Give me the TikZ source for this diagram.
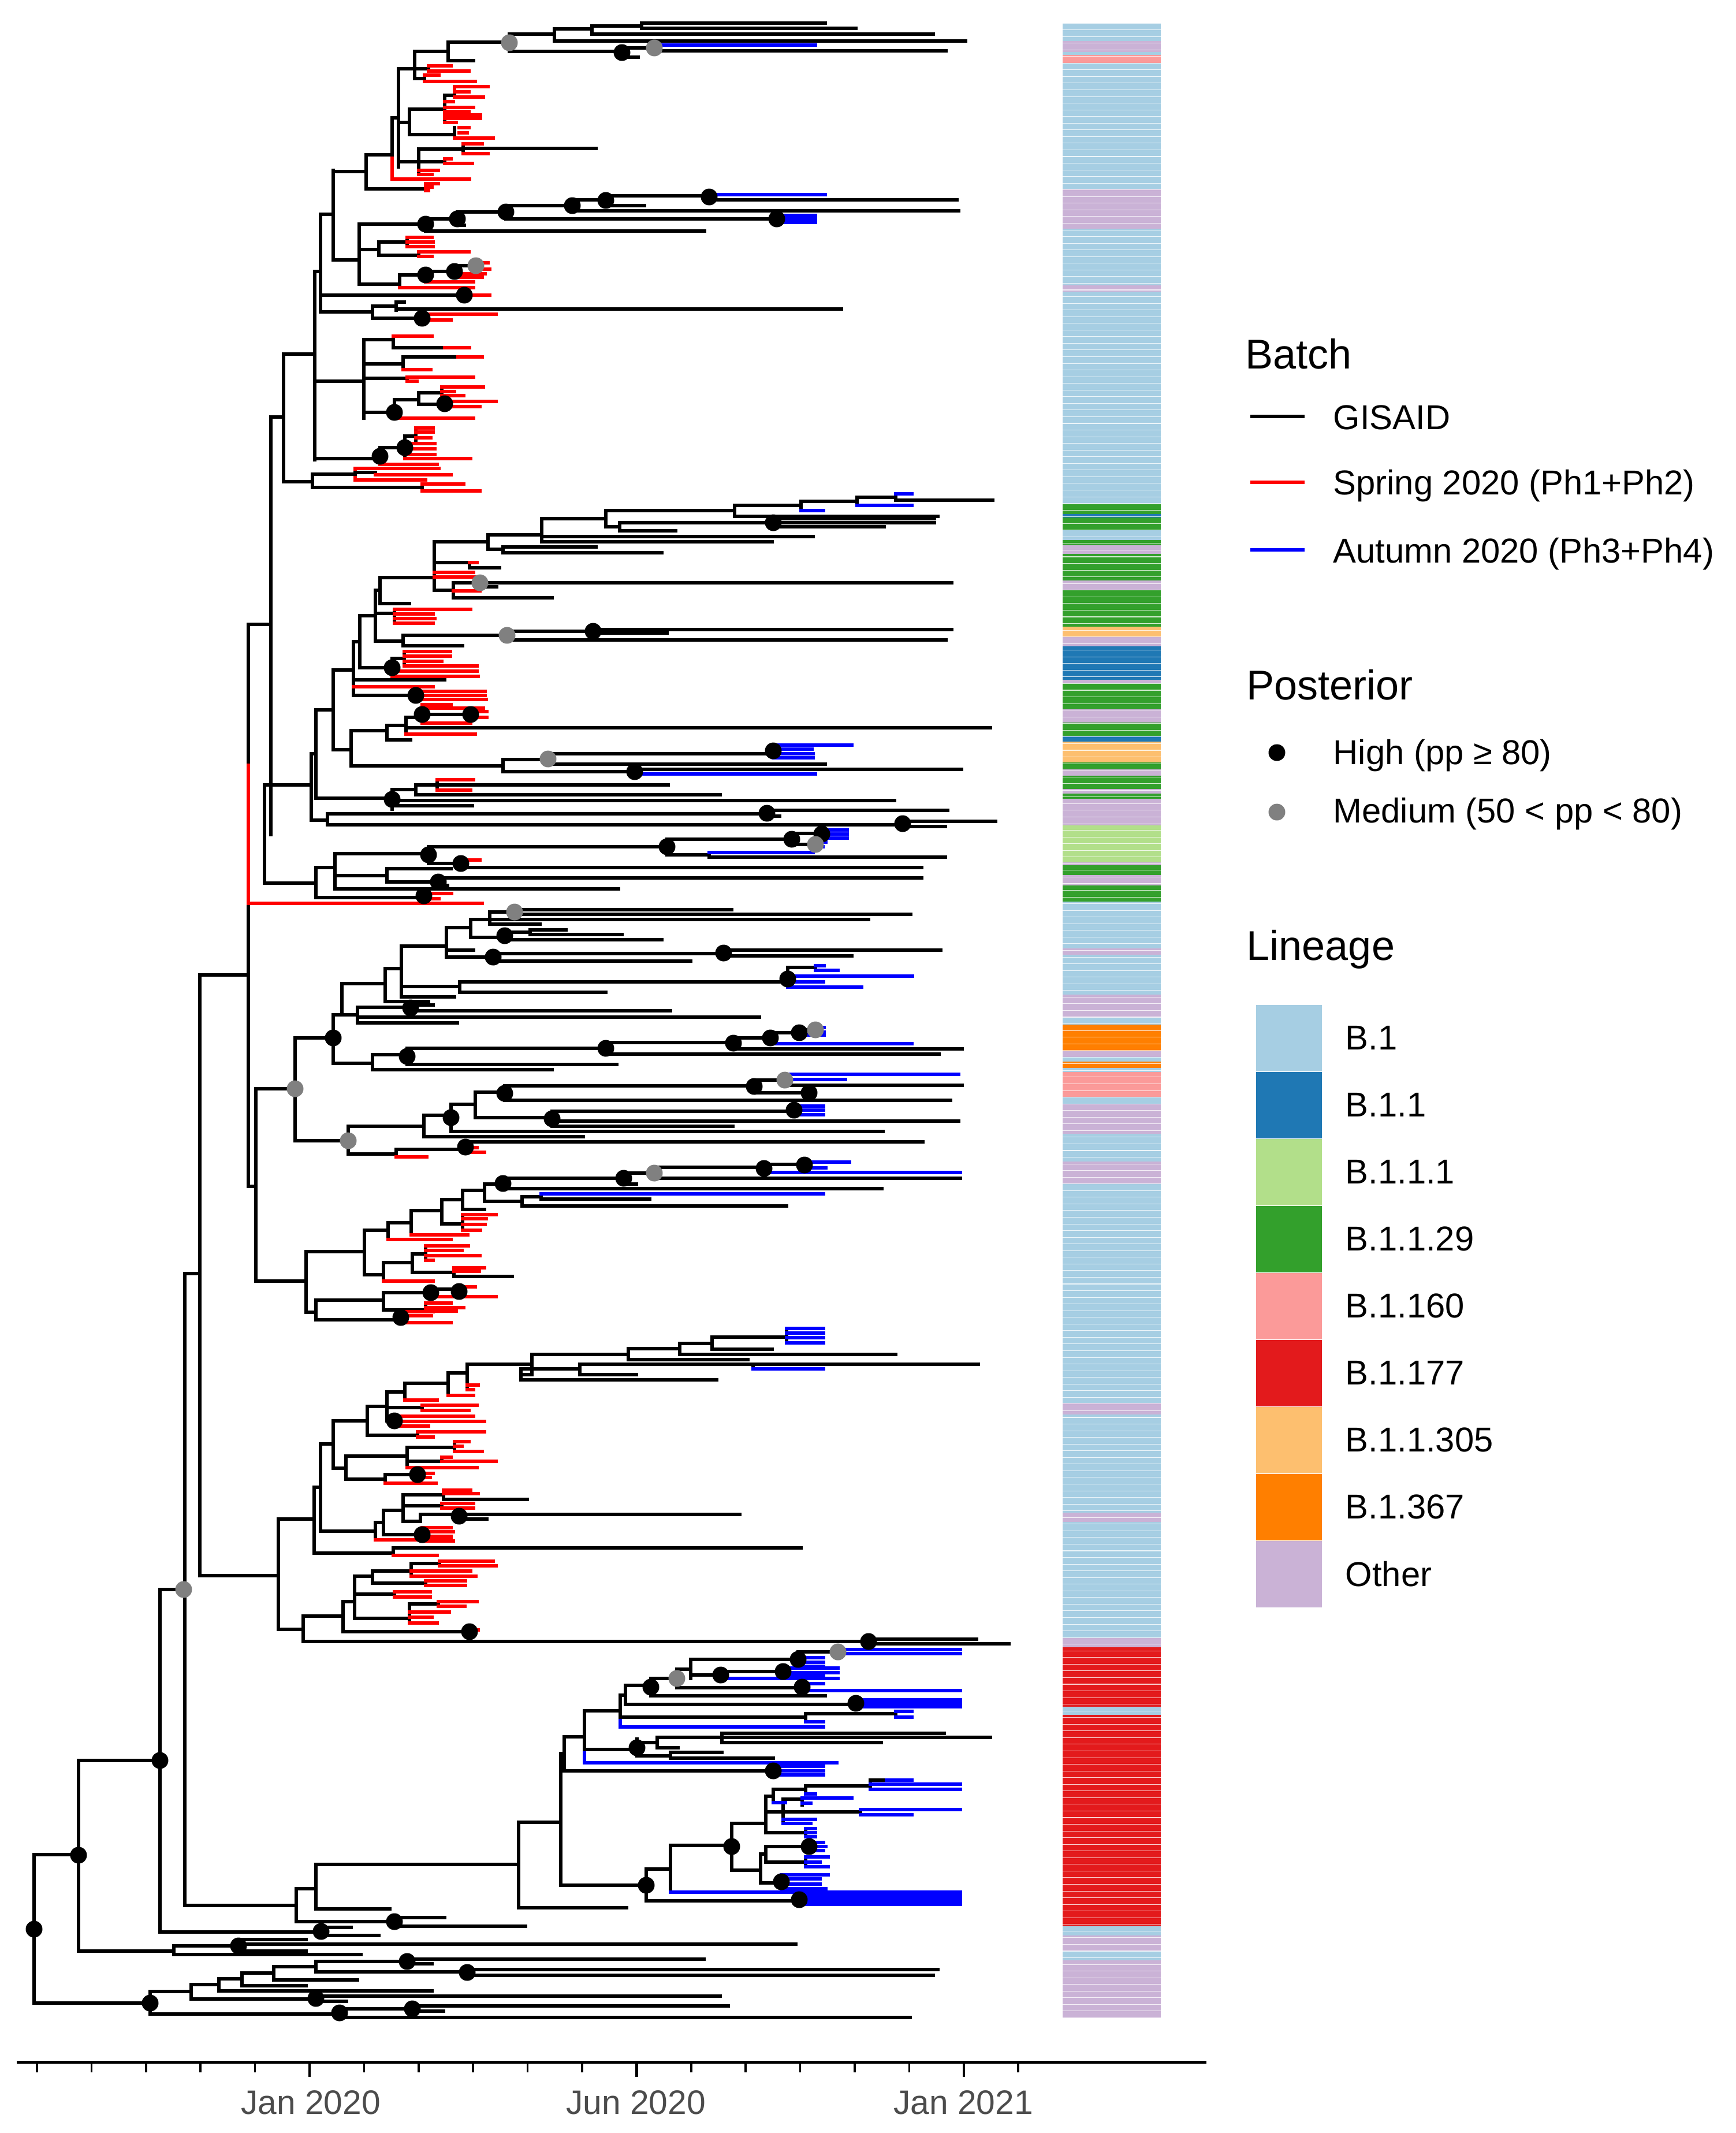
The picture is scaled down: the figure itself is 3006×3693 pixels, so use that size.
\documentclass[tikz,border=0pt]{standalone}
\usepackage{fontspec}
\setmainfont{Liberation Sans}
\usetikzlibrary{positioning}
\definecolor{lnBone}{HTML}{A6CEE3}
\definecolor{lnBoneone}{HTML}{1F78B4}
\definecolor{lnBoneoneone}{HTML}{B2DF8A}
\definecolor{lnBtwentynine}{HTML}{33A02C}
\definecolor{lnBonesixty}{HTML}{FB9A99}
\definecolor{lnBseventyseven}{HTML}{E31A1C}
\definecolor{lnBthreeofive}{HTML}{FDBF6F}
\definecolor{lnBthreesixseven}{HTML}{FF7F00}
\definecolor{lnOther}{HTML}{CAB2D6}
\definecolor{axgray}{gray}{0.3}
\definecolor{medgray}{gray}{0.5}

\begin{document}
\begin{tikzpicture}[x=0.1mm, y=-0.1mm]

\tikzstyle{br} = [line width=1.5pt, line cap=rect];
\tikzstyle{high} = [circle, fill=black, inner sep=0pt, minimum size=2.9mm];
\tikzstyle{medium} = [circle, fill=medgray, inner sep=0pt, minimum size=2.9mm];
\tikzstyle{ttl} = [font=\fontsize{20.5}{24}\selectfont, inner sep=0pt, anchor=base west];
\tikzstyle{leg} = [font=\fontsize{17}{20}\selectfont, inner sep=0pt];
\tikzstyle{swatch} = [rectangle, inner sep=0pt, minimum width=11.5mm, minimum height=11.6mm, draw=white, line width=0.3pt];
\tikzstyle{axlab} = [font=\fontsize{16.7}{20}\selectfont, text=axgray, inner sep=0pt, anchor=base];

\useasboundingbox (0,0) rectangle (3006,3693);

% lineage strip
\foreach \ya/\yb/\c in {40/71/lnBone, 71/90/lnOther, 90/95/lnBone, 95/109/lnBonesixty,
  109/327/lnBone, 327/396/lnOther, 396/494/lnBone, 494/505/lnOther, 505/873/lnBone,
  873/918/lnBtwentynine, 890/896/lnBoneone, 918/935/lnBone, 935/944/lnBtwentynine,
  944/959/lnOther, 959/1005/lnBtwentynine, 1005/1022/lnOther, 1022/1085/lnBtwentynine,
  1085/1102/lnBthreeofive, 1102/1119/lnOther, 1119/1177/lnBoneone, 1177/1183/lnOther,
  1183/1228/lnBtwentynine, 1228/1251/lnOther, 1251/1274/lnBtwentynine, 1274/1284/lnBoneone,
  1284/1320/lnBthreeofive, 1320/1332/lnBtwentynine, 1332/1343/lnOther, 1343/1366/lnBtwentynine,
  1366/1374/lnOther, 1374/1383/lnBtwentynine, 1383/1429/lnOther, 1429/1493/lnBoneoneone,
  1493/1498/lnOther, 1498/1515/lnBtwentynine, 1515/1533/lnOther, 1533/1561/lnBtwentynine,
  1561/1642/lnBone, 1642/1653/lnOther, 1653/1722/lnBone, 1722/1762/lnOther, 1762/1774/lnBone,
  1774/1820/lnBthreesixseven, 1820/1830/lnOther, 1830/1838/lnBone, 1838/1849/lnBthreesixseven,
  1849/1856/lnBone, 1856/1900/lnBonesixty, 1900/1912/lnBone, 1912/1963/lnOther,
  1963/2011/lnBone, 2011/2049/lnOther, 2049/2429/lnBone, 2429/2449/lnOther, 2449/2619/lnBone,
  2619/2635/lnOther, 2635/2836/lnBone, 2836/2852/lnOther, 2852/2955/lnBseventyseven,
  2955/2969/lnBone, 2969/3335/lnBseventyseven, 3335/3351/lnBone, 3351/3378/lnOther,
  3378/3394/lnBone, 3394/3494/lnOther}
  \fill[\c] (1840,\ya) rectangle (2010,\yb);
\foreach \i in {0,...,299}
  \draw[white, line width=0.3pt, opacity=0.8] (1840,{40+11.55*\i}) -- (2010,{40+11.55*\i});

% tree: vertical connectors
\foreach \x/\ya/\yb in {776/73/105, 718/89/136, 882/59/89, 960/50/71, 1025/45/59, 1111/40/49,
  1077/83/99, 1133/78/88, 690/119/289, 709/189/233, 770/165/212, 787/221/239, 802/249/266,
  725/258/302, 770/275/283, 679/204/268, 634/268/327, 577/295/450, 622/388/492, 737/379/400,
  792/367/390, 876/356/379, 991/346/365, 1049/339/356, 1228/337/346, 1345/373/385,
  656/419/442, 705/411/427, 725/436/444, 692/476/498, 737/466/488, 787/460/480, 824/455/466,
  555/371/540, 645/530/551, 686/523/537, 731/544/554, 545/470/796, 491/613/834, 469/722/1445,
  630/588/724, 681/582/602, 698/618/640, 683/692/724, 725/680/700, 765/670/685, 770/695/704,
  658/775/804, 701/755/794, 720/741/768, 541/821/844, 430/1081/1325, 430/1564/2054,
  1484/861/875, 1551/855/866, 1387/868/884, 1272/875/894, 1049/884/912, 1073/905/919,
  1339/898/912, 938/898/938, 845/926/951, 871/947/957, 752/938/1022, 813/974/983,
  785/1009/1035, 658/1000/1045, 650/1022/1110, 683/1055/1079, 698/1100/1118, 878/1093/1108,
  1027/1090/1096, 612/1111/1204, 623/1066/1156, 679/1140/1172, 700/1128/1153, 720/1197/1211,
  577/1160/1298, 608/1265/1326, 670/1256/1281, 703/1242/1271, 731/1220/1252, 815/1232/1242,
  871/1315/1336, 949/1305/1323, 1339/1290/1312, 1099/1332/1340, 547/1229/1382, 679/1367/1401,
  720/1359/1376, 757/1350/1368, 539/1305/1420, 567/1409/1428, 1328/1403/1413, 1563/1422/1431,
  458/1359/1529, 547/1502/1554, 580/1478/1539, 742/1466/1495, 1155/1453/1480, 1371/1443/1462,
  1228/1476/1484, 798/1489/1502, 670/1504/1527, 759/1520/1533, 734/1547/1556, 346/1688/2728,
  443/1885/2218, 511/1797/1975, 577/1757/1841, 619/1744/1771, 711/1740/1750, 592/1703/1757,
  667/1677/1734, 695/1638/1726, 773/1606/1657, 815/1592/1623, 848/1579/1600, 891/1575/1583,
  874/1610/1627, 918/1610/1618, 854/1651/1664, 1253/1645/1655, 796/1700/1718, 1364/1675/1709,
  1412/1672/1680, 645/1826/1852, 705/1815/1843, 1049/1805/1826, 1270/1797/1816, 1334/1788/1807,
  1384/1783/1792, 603/1950/1998, 734/1931/1968, 781/1912/1959, 823/1891/1935, 874/1880/1905,
  1306/1870/1892, 1359/1860/1879, 956/1924/1950, 1375/1915/1930, 686/1990/2003, 806/1977/1996,
  530/2167/2272, 631/2130/2207, 672/2117/2146, 712/2096/2138, 765/2077/2119, 801/2061/2094,
  839/2050/2080, 871/2040/2058, 1080/2031/2050, 1133/2021/2040, 1323/2016/2030, 1393/2012/2022,
  904/2072/2088, 937/2067/2076, 801/2103/2130, 664/2186/2218, 714/2171/2203, 737/2157/2182,
  786/2195/2210, 547/2251/2285, 664/2238/2268, 746/2232/2245, 795/2226/2245, 737/2256/2270,
  694/2271/2292, 1362/2300/2325, 1233/2315/2336, 1177/2326/2345, 1088/2335/2354, 921/2345/2380,
  902/2370/2389, 1004/2362/2380, 1304/2362/2370, 809/2362/2406, 776/2377/2416, 701/2395/2424,
  670/2410/2460, 731/2433/2442, 683/2452/2469, 636/2435/2485, 723/2479/2488, 577/2460/2542,
  599/2521/2561, 705/2506/2541, 787/2496/2513, 765/2523/2530, 667/2553/2568, 723/2551/2558,
  555/2500/2651, 544/2575/2689, 482/2630/2821, 650/2636/2666, 664/2615/2657, 698/2588/2634,
  768/2580/2596, 765/2603/2611, 728/2622/2634, 795/2620/2630, 731/2645/2668, 681/2680/2693,
  525/2798/2842, 594/2773/2825, 614/2729/2802, 645/2720/2741, 712/2707/2729, 761/2703/2711,
  737/2737/2745, 683/2756/2765, 709/2777/2810, 759/2773/2781, 1504/2838/2846, 320/2205/3299,
  277/2752/3345, 136/3048/3378, 59/3211/3468, 1172/2890/2922, 1196/2873/2906, 1382/2860/2885,
  1451/2856/2863, 1248/2894/2906, 1356/2888/2900, 1389/2915/2927, 1127/2906/2936,
  1083/2918/2951, 1482/2943/2955, 1074/2935/2973, 1395/2967/2981, 1551/2963/2973,
  1012/2962/3029, 977/3007/3066, 1339/3058/3073, 1103/3011/3040, 1138/3008/3026,
  1250/3001/3017, 1161/3034/3044, 971/3036/3264, 898/3155/3303, 547/3228/3305, 513/3270/3327,
  683/3320/3335, 1119/3236/3291, 1161/3195/3276, 1267/3157/3238, 1326/3110/3173,
  1339/3098/3121, 1395/3092/3106, 1507/3082/3098, 1356/3115/3157, 1389/3113/3125,
  1490/3133/3142, 1395/3166/3180, 1317/3210/3260, 1326/3197/3224, 1401/3190/3204,
  1395/3215/3232, 1353/3246/3270, 1384/3280/3297, 556/3337/3351, 301/3369/3384,
  413/3358/3378, 260/3448/3487, 331/3436/3461, 379/3426/3447, 419/3416/3438, 474/3405/3428,
  547/3396/3414, 705/3392/3400, 809/3410/3420, 547/3456/3465, 588/3478/3493, 714/3473/3482}
  \draw[br] (\x,\ya) -- (\x,\yb);
\foreach \x/\ya/\yb in {430/1325/1564, 679/268/310, 742/114/123, 735/130/141, 787/150/168,
  615/811/831, 731/838/850}
  \draw[br, red] (\x,\ya) -- (\x,\yb);
\foreach \x/\ya/\yb in {1012/3029/3052, 1074/2973/2990}
  \draw[br, blue] (\x,\ya) -- (\x,\yb);

% tree: GISAID branches
\foreach \xa/\xb/\y in {776/882/73, 776/820/105, 718/776/89, 882/960/59, 882/1077/89,
  960/1025/50, 960/1672/71, 1025/1111/45, 1025/1616/59, 1111/1429/40, 1111/1482/49,
  1077/1133/83, 1133/1638/88, 1077/1105/99, 690/718/119, 718/742/119, 718/735/136,
  690/709/212, 709/770/189, 770/787/165, 709/787/233, 725/802/258, 802/1032/257, 725/770/280,
  690/725/280, 679/690/204, 634/679/268, 634/737/327, 577/634/297, 577/622/450, 622/737/388,
  737/792/379, 737/1220/400, 792/876/367, 792/804/390, 876/991/356, 876/1345/379,
  991/1049/346, 991/1660/365, 1049/1228/339, 1049/1116/356, 1228/1657/346, 622/656/432,
  656/705/419, 656/725/442, 622/692/492, 692/737/476, 737/787/470, 787/824/460, 555/577/371,
  555/804/511, 555/645/540, 645/686/530, 686/1457/535, 686/700/523, 645/731/551, 545/555/470,
  491/545/613, 469/491/722, 545/630/660, 630/681/588, 681/770/602, 630/698/630, 698/793/618,
  630/705/655, 630/683/714, 683/725/692, 725/765/680, 725/770/700, 545/658/794, 658/701/775,
  701/720/755, 491/541/834, 615/650/818, 541/615/821, 541/731/844, 430/469/1081,
  1484/1551/861, 1551/1719/866, 1387/1484/868, 1272/1387/875, 1272/1624/894, 1049/1272/884,
  1049/1073/912, 1073/1339/905, 1073/1170/919, 1339/1618/898, 1339/1618/905, 1339/1531/912,
  938/1049/898, 938/1408/929, 938/1337/938, 845/938/926, 845/871/951, 871/1032/947,
  871/1146/957, 752/845/938, 752/813/974, 813/865/983, 785/831/1009, 831/1648/1009,
  831/860/1016, 785/956/1035, 752/785/1022, 658/752/1000, 658/709/1045, 650/658/1022,
  650/683/1062, 650/698/1110, 698/878/1100, 878/1027/1093, 1027/1648/1090, 1027/1155/1096,
  878/1638/1108, 698/801/1118, 623/650/1066, 623/679/1156, 679/700/1140, 612/623/1111,
  612/770/1177, 612/720/1204, 577/612/1160, 608/670/1265, 670/703/1256, 703/731/1242,
  731/815/1237, 703/1715/1260, 670/711/1281, 577/608/1298, 608/871/1326, 871/949/1315,
  949/1339/1305, 949/1429/1323, 871/1099/1336, 1099/1665/1332, 547/577/1229, 547/679/1382,
  679/720/1367, 720/757/1359, 757/1157/1359, 720/1247/1376, 679/1549/1386, 679/818/1395,
  539/547/1305, 539/567/1420, 567/1328/1409, 1328/1641/1403, 1328/1350/1413, 567/1563/1428,
  1563/1724/1422, 1563/1637/1431, 458/539/1359, 458/547/1529, 547/580/1502, 580/742/1478,
  742/1155/1466, 1155/1371/1453, 1371/1423/1443, 1371/1412/1462, 1155/1228/1480,
  1228/1637/1484, 742/798/1495, 798/1596/1502, 580/670/1516, 670/781/1504, 670/759/1527,
  759/1596/1520, 759/775/1533, 580/1071/1539, 547/734/1554, 430/443/2054, 346/430/1688,
  443/511/1885, 511/577/1797, 577/619/1757, 619/711/1744, 711/750/1740, 711/1161/1750,
  619/1315/1761, 619/792/1771, 592/667/1703, 667/695/1677, 667/742/1734, 695/773/1638,
  773/815/1606, 815/848/1592, 848/891/1579, 891/1267/1575, 891/1577/1583, 848/1504/1592,
  848/935/1600, 815/874/1623, 874/918/1614, 918/980/1610, 918/1077/1618, 874/1146/1627,
  773/820/1645, 773/854/1657, 854/1253/1651, 1253/1629/1645, 1253/1475/1655, 854/1196/1664,
  695/796/1708, 796/1364/1700, 1364/1412/1675, 796/1049/1718, 695/787/1726, 577/645/1841,
  645/705/1826, 705/1049/1815, 1049/1270/1805, 1270/1334/1797, 1334/1384/1788,
  1384/1412/1783, 1270/1666/1816, 1049/1626/1825, 705/1068/1843, 645/956/1852, 511/603/1975,
  603/734/1950, 734/781/1931, 781/823/1912, 823/874/1891, 874/1306/1880, 1306/1359/1870,
  1359/1666/1879, 1306/1401/1892, 874/1646/1905, 823/956/1935, 956/1375/1924, 956/1660/1941,
  956/1269/1950, 781/1529/1959, 734/1010/1968, 603/686/1998, 686/806/1990, 806/1598/1977,
  443/530/2218, 530/631/2167, 631/672/2130, 672/712/2117, 712/765/2096, 765/801/2077,
  801/839/2061, 839/871/2050, 871/1080/2040, 1080/1133/2031, 1133/1323/2021, 1323/1393/2016,
  1133/1663/2040, 1080/1102/2050, 871/1527/2058, 839/904/2080, 904/937/2072, 937/1125/2076,
  904/1362/2088, 801/839/2094, 765/801/2119, 631/664/2207, 664/714/2186, 714/737/2171,
  714/786/2203, 786/887/2210, 530/547/2272, 547/664/2251, 664/746/2238, 746/795/2232,
  664/737/2268, 547/694/2285, 1233/1362/2315, 1233/1337/2336, 1177/1233/2326, 1177/1551/2345,
  1088/1177/2335, 1088/1295/2354, 921/1088/2345, 902/921/2380, 902/1004/2370, 1004/1304/2362,
  1304/1694/2362, 1004/1102/2380, 902/1241/2389, 809/921/2362, 776/809/2377, 701/776/2395,
  670/701/2410, 670/731/2437, 670/683/2460, 636/670/2435, 636/723/2485, 577/636/2460,
  555/577/2500, 599/705/2521, 705/787/2506, 705/765/2530, 599/667/2561, 667/723/2553,
  577/599/2542, 544/555/2575, 555/650/2651, 650/664/2636, 664/698/2615, 698/768/2588,
  768/913/2596, 698/765/2607, 698/728/2634, 728/795/2622, 795/1281/2622, 795/843/2630,
  664/731/2657, 544/681/2689, 681/1387/2680, 482/544/2630, 346/482/2728, 482/525/2821,
  525/594/2798, 594/614/2773, 614/645/2729, 645/712/2720, 712/761/2707, 645/737/2741,
  614/683/2760, 614/709/2802, 709/759/2777, 594/813/2825, 525/1504/2842, 1504/1691/2838,
  1504/1747/2846, 320/346/2205, 320/513/3299, 277/318/2752, 1074/1083/2935, 1083/1127/2918,
  1127/1172/2906, 1172/1196/2890, 1196/1382/2873, 1382/1451/2860, 1196/1248/2900,
  1248/1356/2894, 1172/1389/2922, 1127/1429/2936, 1083/1482/2951, 1074/1395/2973,
  1395/1551/2967, 1012/1074/2962, 977/1012/3007, 971/977/3036, 977/1339/3066, 1012/1103/3029,
  1103/1138/3017, 1138/1250/3008, 1250/1635/3001, 1250/1715/3008, 1250/1526/3017,
  1138/1174/3026, 1103/1161/3040, 1161/1250/3034, 1161/1339/3044, 898/971/3155,
  898/1085/3303, 547/898/3228, 547/675/3305, 513/547/3270, 513/683/3327, 683/770/3320,
  683/910/3335, 971/1119/3264, 1119/1161/3236, 1161/1267/3195, 1267/1326/3157,
  1326/1339/3110, 1339/1395/3098, 1395/1507/3092, 1507/1535/3082, 1326/1356/3137,
  1356/1389/3115, 1356/1490/3137, 1326/1395/3173, 1267/1317/3238, 1317/1326/3210,
  1326/1401/3197, 1326/1395/3224, 1317/1353/3260, 1119/1384/3291, 277/556/3345,
  556/608/3337, 556/656/3351, 136/277/3048, 136/301/3378, 301/413/3369, 413/530/3358,
  413/1378/3366, 413/530/3378, 301/625/3384, 59/136/3211, 59/260/3468, 260/331/3448,
  331/379/3436, 379/419/3426, 419/474/3416, 474/547/3405, 547/705/3396, 705/1219/3392,
  705/748/3400, 547/809/3414, 809/1624/3410, 809/1616/3420, 474/619/3428, 419/530/3438,
  379/748/3447, 331/547/3461, 547/1247/3456, 547/600/3465, 260/588/3487, 588/714/3478,
  714/1261/3473, 714/768/3482, 588/1576/3493}
  \draw[br] (\xa,\y) -- (\xb,\y);

% tree: spring 2020 branches
\foreach \xa/\xb/\y in {742/781/114, 742/812/123, 735/760/130, 735/823/141, 787/845/150,
  787/812/159, 787/837/168, 770/785/176, 770/820/186, 770/812/193, 770/832/199, 770/832/205,
  770/790/212, 795/812/221, 795/809/230, 787/854/239, 802/835/249, 802/845/266, 770/781/275,
  770/818/283, 725/759/295, 725/748/302, 679/813/310, 737/759/318, 737/748/324, 737/742/330,
  705/748/411, 705/750/419, 705/750/427, 725/812/436, 725/748/444, 824/845/455, 824/848/466,
  787/840/474, 787/835/480, 737/820/488, 692/820/498, 804/848/511, 731/859/544, 731/781/554,
  681/748/582, 770/813/602, 793/835/618, 698/746/640, 705/820/653, 705/722/660, 765/837/670,
  765/787/678, 765/803/685, 770/859/695, 770/831/704, 683/820/724, 720/750/741, 720/750/748,
  720/746/758, 701/753/768, 701/753/777, 701/753/787, 701/815/794, 658/757/804, 615/760/811,
  650/781/822, 615/737/831, 731/803/838, 731/831/850, 813/826/974, 752/820/991, 752/832/999,
  785/831/1023, 683/815/1055, 683/750/1063, 683/753/1071, 683/750/1079, 700/780/1128,
  700/780/1136, 700/765/1145, 700/826/1153, 679/826/1162, 679/828/1171, 612/750/1189,
  720/840/1197, 720/840/1204, 720/842/1211, 731/781/1220, 731/837/1226, 815/843/1232,
  815/843/1242, 731/815/1252, 703/823/1271, 757/820/1350, 757/815/1368, 430/835/1564,
  798/831/1489, 734/782/1547, 734/760/1556, 806/826/1987, 806/839/1995, 686/739/2003,
  801/859/2103, 801/842/2110, 801/840/2120, 801/832/2130, 712/810/2138, 672/781/2146,
  737/811/2157, 737/800/2165, 737/831/2174, 737/750/2182, 786/839/2195, 786/830/2201,
  664/750/2218, 795/823/2228, 795/859/2245, 746/795/2245, 737/781/2256, 737/803/2264,
  737/790/2270, 694/750/2271, 694/747/2278, 694/781/2290, 809/828/2398, 809/820/2406,
  776/820/2416, 701/757/2424, 731/826/2433, 731/812/2442, 683/820/2452, 683/839/2461,
  683/742/2469, 723/839/2479, 723/750/2488, 787/812/2496, 787/800/2504, 787/835/2513,
  765/781/2523, 765/859/2530, 705/826/2541, 723/750/2551, 723/745/2558, 667/755/2568,
  768/815/2580, 768/828/2586, 765/820/2603, 765/820/2611, 731/781/2645, 731/785/2652,
  731/781/2660, 731/785/2668, 650/781/2666, 681/757/2693, 761/854/2703, 761/859/2711,
  712/815/2720, 712/824/2729, 737/806/2737, 737/806/2745, 683/745/2756, 683/745/2765,
  759/826/2773, 759/805/2781, 709/778/2791, 709/748/2800, 709/757/2810, 813/828/2822}
  \draw[br, red] (\xa,\y) -- (\xb,\y);

% tree: autumn 2020 branches
\foreach \xa/\xb/\y in {1133/1412/78, 1228/1429/337, 1345/1412/373, 1345/1412/379,
  1345/1412/385, 1551/1579/855, 1484/1579/875, 1387/1426/884, 1339/1475/1290,
  1339/1406/1297, 1339/1408/1305, 1339/1408/1312, 1099/1412/1340, 1423/1467/1437,
  1423/1467/1444, 1423/1467/1451, 1412/1430/1458, 1412/1425/1466, 1228/1408/1476,
  1412/1427/1672, 1412/1451/1680, 1364/1580/1690, 1364/1426/1700, 1364/1492/1709,
  1412/1427/1779, 1412/1427/1787, 1384/1427/1792, 1334/1579/1807, 1359/1660/1860,
  1359/1464/1869, 1375/1426/1915, 1375/1426/1922, 1375/1426/1930, 1393/1471/2012,
  1393/1430/2022, 1323/1663/2030, 937/1426/2067, 1362/1426/2300, 1362/1426/2308,
  1362/1426/2316, 1362/1426/2325, 1304/1426/2370, 1451/1663/2856, 1451/1663/2863,
  1382/1426/2870, 1382/1426/2878, 1382/1426/2885, 1356/1451/2888, 1356/1451/2896,
  1356/1426/2900, 1248/1451/2906, 1389/1426/2915, 1389/1663/2927, 1482/1663/2943,
  1482/1663/2949, 1482/1663/2955, 1551/1579/2963, 1551/1579/2973, 1395/1426/2981,
  1074/1426/2990, 1012/1449/3052, 1339/1426/3058, 1339/1426/3066, 1339/1426/3073,
  1535/1579/3082, 1507/1663/3089, 1507/1663/3098, 1395/1412/3106, 1339/1360/3121,
  1389/1475/3113, 1389/1404/3122, 1490/1663/3133, 1490/1579/3142, 1356/1412/3150,
  1356/1404/3157, 1395/1412/3166, 1395/1412/3173, 1395/1412/3180, 1401/1426/3190,
  1401/1430/3197, 1401/1426/3204, 1395/1434/3215, 1395/1420/3224, 1395/1434/3232,
  1353/1434/3246, 1353/1420/3253, 1353/1420/3262, 1353/1430/3270, 1161/1663/3276,
  1384/1663/3280, 1384/1663/3286, 1384/1663/3291, 1384/1663/3297}
  \draw[br, blue] (\xa,\y) -- (\xb,\y);

% posterior support
\foreach \x/\y [count=\i] in {1077/91, 737/388, 792/379, 876/367, 991/356, 1049/347, 1228/341,
  1345/379, 737/476, 787/470, 804/511, 731/551, 683/714, 770/699, 658/790, 701/775, 1339/905,
  1027/1093, 679/1156, 720/1204, 731/1237, 815/1237, 1339/1300, 1099/1336, 679/1384,
  1328/1408, 1563/1426, 742/1480, 1155/1466, 1371/1453, 1423/1444, 798/1495, 759/1527,
  734/1551, 874/1620, 854/1657, 1253/1650, 1364/1695, 577/1797, 711/1745, 705/1829,
  1049/1815, 1270/1806, 1334/1797, 1384/1788, 781/1935, 874/1893, 1306/1881, 1401/1892,
  956/1937, 1375/1922, 806/1986, 871/2049, 1080/2040, 1323/2023, 1393/2017, 746/2238,
  795/2236, 694/2281, 683/2460, 723/2553, 795/2625, 731/2657, 813/2825, 1504/2842,
  1382/2873, 1248/2900, 1356/2894, 1127/2921, 1389/2921, 1482/2949, 1103/3026, 1339/3066,
  1119/3264, 1267/3197, 1401/3197, 1353/3258, 1384/3289, 683/3327, 277/3048, 136/3212,
  59/3340, 260/3468, 413/3369, 556/3344, 547/3460, 588/3485, 714/3478, 705/3396, 809/3415}
  \node[high] (hp\i) at (\x,\y) {};
\foreach \x/\y [count=\i] in {882/74, 1133/83, 824/460, 831/1009, 878/1100, 949/1314,
  1412/1462, 891/1579, 1412/1783, 511/1885, 603/1975, 1359/1870, 1133/2031, 1451/2860,
  1172/2906, 318/2752}
  \node[medium] (mp\i) at (\x,\y) {};

% time axis
\draw[line width=1.4pt] (29,3570) -- (2089,3570);
\foreach \k in {0,...,18}
  \draw[line width=1pt] ({64+94.4*\k},3570) -- ++(0,18);
\foreach \k in {5,11,17}
  \draw[line width=1.3pt] ({64+94.4*\k},3570) -- ++(0,26);
\node[axlab] (jan20) at (538,3660) {Jan 2020};
\node[axlab] (jun20) at (1101,3660) {Jun 2020};
\node[axlab] (jan21) at (1668,3660) {Jan 2021};

% legends
\node[ttl] (batch) at (2156,638) {Batch};
\draw[line width=1.8pt] (2165,721) coordinate (kg) -- (2259,721);
\draw[line width=1.8pt, red] (2165,835) coordinate (ks) -- (2259,835);
\draw[line width=1.8pt, blue] (2165,952) coordinate (ka) -- (2259,952);
\node[leg, anchor=base west] (gisaid) at (2308,743) {GISAID};
\node[leg, anchor=base west] (spring) at (2308,856) {Spring 2020 (Ph1+Ph2)};
\node[leg, anchor=base west] (autumn) at (2308,974) {Autumn 2020 (Ph3+Ph4)};

\node[ttl] (posterior) at (2158,1211) {Posterior};
\node[high] (khigh) at (2211,1303) {};
\node[medium] (kmed) at (2211,1406) {};
\node[leg, anchor=base west] (highlab) at (2308,1323) {High (pp ≥ 80)};
\node[leg, anchor=base west] (medlab) at (2308,1424) {Medium (50 < pp < 80)};

\node[ttl] (lineage) at (2158,1662) {Lineage};
\foreach \c/\t [count=\i] in {lnBone/B.1, lnBoneone/B.1.1, lnBoneoneone/B.1.1.1,
  lnBtwentynine/B.1.1.29, lnBonesixty/B.1.160, lnBseventyseven/B.1.177,
  lnBthreeofive/B.1.1.305, lnBthreesixseven/B.1.367, lnOther/Other} {
  \node[swatch, fill=\c] (sw\i) at (2232,{1797+116*(\i-1)}) {};
  \node[leg, right=3.9mm of sw\i] (lb\i) {\t};
}

\end{tikzpicture}
\end{document}
